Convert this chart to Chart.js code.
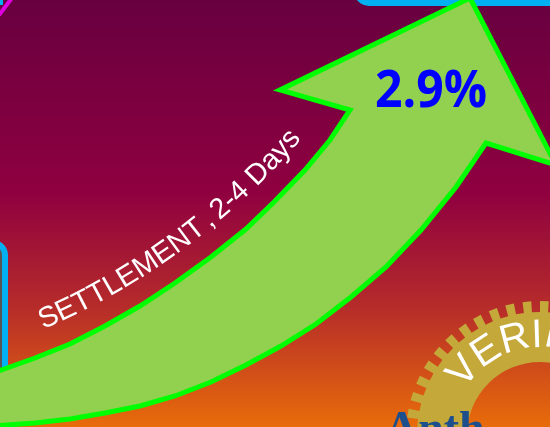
<!DOCTYPE html>
<html>
<head>
<meta charset="utf-8">
<script src="https://cdn.jsdelivr.net/npm/chart.js@4/dist/chart.umd.min.js"></script>
<style>
  html,body{margin:0;padding:0;background:#6a0040;overflow:hidden}
  #wrap{width:550px;height:427px;position:relative}
</style>
</head>
<body>
<div id="wrap"><canvas id="c" width="550" height="427"></canvas></div>
<script>
// arrow outline (px, y downwards)
const arrowX = [-5, 7, 35, 70, 105, 140, 175, 211, 246, 281, 316, 351, 386, 421, 456, 486, 556, 470, 280, 350, 330, 305, 274, 246, 211, 175, 140, 105, 70, 35, 7, -5];
const arrowY = [426, 425, 423, 419, 413, 406, 396, 382, 365, 346, 324, 297, 267, 230, 187, 143, 165, -2, 90, 110, 140, 170, 202, 229, 257, 283, 306, 326, 344, 358, 368, 372];

const arrowLabel = 'SETTLEMENT , 2-4 Days';
const valueLabel = '2.9%';
const logoLabel = 'VERIM';
const brandLabel = 'Anth';

const W = 550, H = 427;

// draw text letter by letter along a circle
// spaces next to a comma are set tighter, like the original word art
function arcText(ctx, str, cx, cy, r, startDeg, dir, inward, tightComma) {
  let th = startDeg * Math.PI / 180;
  const chars = [...str];
  chars.forEach((ch, i) => {
    let w = ctx.measureText(ch).width;
    if (tightComma && ch === ' ' && (chars[i - 1] === ',' || chars[i + 1] === ',')) w *= 0.5;
    const mid = th + dir * (w / 2) / r;
    ctx.save();
    ctx.translate(cx + r * Math.cos(mid), cy + r * Math.sin(mid));
    ctx.rotate(mid + (inward ? -Math.PI / 2 : Math.PI / 2));
    ctx.fillText(ch, 0, 0);
    ctx.restore();
    th += dir * w / r;
  });
}

// background, frames and logo behind the arrow
const backdrop = {
  id: 'backdrop',
  beforeDraw(chart) {
    const ctx = chart.ctx;
    ctx.save();
    const g = ctx.createLinearGradient(0, 0, 0, H);
    g.addColorStop(0, 'rgb(104,0,64)');
    g.addColorStop(0.45, 'rgb(143,0,64)');
    g.addColorStop(0.72, 'rgb(182,44,42)');
    g.addColorStop(1, 'rgb(232,108,10)');
    ctx.fillStyle = g;
    ctx.fillRect(0, 0, W, H);

    // left photo frame
    ctx.fillStyle = '#555';
    ctx.fillRect(0, 250, 3, H);
    ctx.strokeStyle = '#00b0f0';
    ctx.lineWidth = 6;
    ctx.beginPath();
    ctx.roundRect(-100, 243, 105, 300, 12);
    ctx.stroke();

    // top frame
    ctx.beginPath();
    ctx.roundRect(357, -100, 300, 103, 12);
    ctx.stroke();

    // top-left corner bits
    ctx.strokeStyle = '#e000e0';
    ctx.lineWidth = 4;
    ctx.beginPath();
    ctx.moveTo(12, -2); ctx.lineTo(-1, 15);
    ctx.stroke();
    ctx.fillStyle = '#00b0f0';
    ctx.fillRect(0, 0, 3, 5);

    // gear logo
    const cx = 540, cy = 435, rIn = 73, rBase = 123, rTip = 134, n = 48;
    const pitch = Math.PI * 2 / n;
    ctx.fillStyle = '#c4a83a';
    ctx.beginPath();
    for (let k = 0; k < n; k++) {
      const a0 = k * pitch, a1 = a0 + pitch / 2, a2 = a0 + pitch;
      ctx.lineTo(cx + rTip * Math.cos(a0), cy + rTip * Math.sin(a0));
      ctx.lineTo(cx + rTip * Math.cos(a1), cy + rTip * Math.sin(a1));
      ctx.lineTo(cx + rBase * Math.cos(a1), cy + rBase * Math.sin(a1));
      ctx.lineTo(cx + rBase * Math.cos(a2), cy + rBase * Math.sin(a2));
    }
    ctx.closePath();
    ctx.moveTo(cx + rIn, cy);
    ctx.arc(cx, cy, rIn, 0, Math.PI * 2, true);
    ctx.fill('evenodd');

    ctx.fillStyle = '#fff';
    ctx.font = '40px "Liberation Sans", Arial, sans-serif';
    ctx.textAlign = 'center';
    ctx.textBaseline = 'alphabetic';
    arcText(ctx, logoLabel, cx, cy, 88, 211, 1, false, false);

    // brand word at bottom
    ctx.fillStyle = '#1d4f8c';
    ctx.font = 'bold 46px "Liberation Serif", "DejaVu Serif", serif';
    ctx.textAlign = 'left';
    ctx.fillText(brandLabel, 385, 443);
    ctx.restore();
  }
};

// labels on top of the arrow
const labels = {
  id: 'labels',
  afterDatasetsDraw(chart) {
    const ctx = chart.ctx;
    ctx.save();
    ctx.fillStyle = '#fff';
    ctx.font = '29px "Liberation Sans", Arial, sans-serif';
    ctx.textAlign = 'center';
    ctx.textBaseline = 'alphabetic';
    arcText(ctx, arrowLabel, -233, -315, 701, 66.8, -1, true, true);

    // value in the arrow head
    ctx.fillStyle = '#0000ff';
    ctx.font = 'bold 52px "Open Sans", "Noto Sans", sans-serif';
    ctx.textAlign = 'left';
    const tw = ctx.measureText(valueLabel).width;
    ctx.translate(375, 107);
    ctx.scale(112 / tw, 1);
    ctx.fillText(valueLabel, 0, 0);
    ctx.restore();
  }
};

new Chart(document.getElementById('c'), {
  type: 'scatter',
  data: {
    datasets: [{
      data: arrowX.map((x, i) => ({ x, y: arrowY[i] })),
      showLine: true,
      fill: 'shape',
      tension: 0,
      backgroundColor: '#92d050',
      borderColor: '#00ff00',
      borderWidth: 5,
      borderJoinStyle: 'miter',
      pointRadius: 0,
      clip: false
    }]
  },
  options: {
    responsive: false,
    animation: false,
    devicePixelRatio: 1,
    layout: { padding: 0 },
    plugins: { legend: { display: false }, tooltip: { enabled: false } },
    scales: {
      x: { type: 'linear', min: 0, max: W, display: false },
      y: { type: 'linear', min: 0, max: H, reverse: true, display: false }
    }
  },
  plugins: [backdrop, labels]
});
</script>
</body>
</html>
